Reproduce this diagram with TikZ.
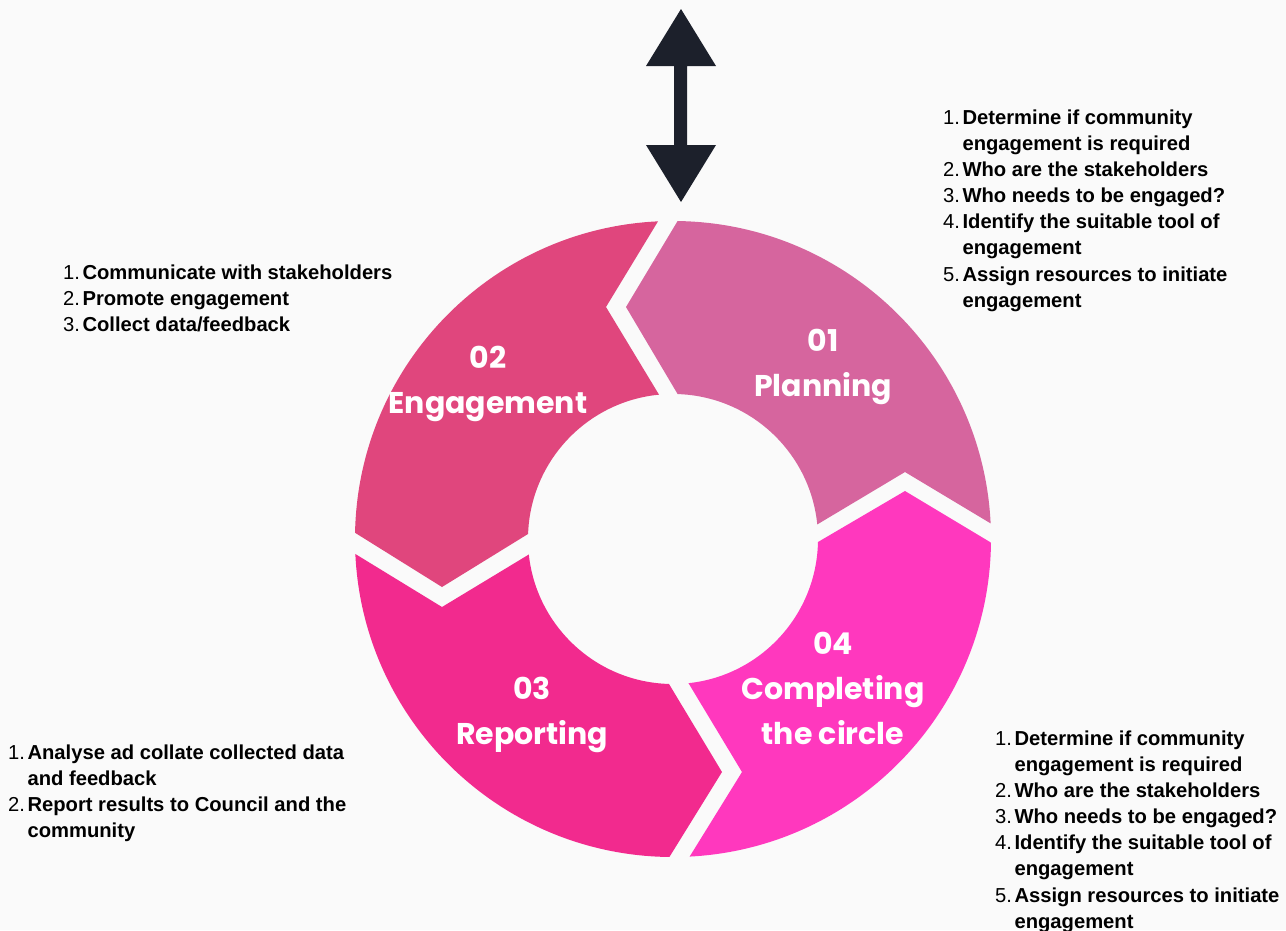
\documentclass[tikz,border=0pt]{standalone}
\usepackage{fontspec}
\usetikzlibrary{calc}
\newfontfamily\pop{Poppins}
\newfontfamily\lsf{Liberation Sans}
\definecolor{bgc}{HTML}{FAFAFA}
\definecolor{cA}{HTML}{D6659E}
\definecolor{cB}{HTML}{E0467D}
\definecolor{cC}{HTML}{F22A8E}
\definecolor{cD}{HTML}{FF38BE}
\definecolor{arr}{HTML}{1C202B}
\tikzset{
  lab/.style={text=white, font=\pop\bfseries\fontsize{30}{45}\selectfont, align=center, inner sep=0pt},
  lst/.style={anchor=north west, inner sep=0pt, text=black, font=\lsf\fontsize{20.2}{26.1}\selectfont},
}
\newcommand{\itm}[2]{#1.&\textbf{#2}}
\begin{document}
\begin{tikzpicture}[x=1pt,y=-1pt]
\useasboundingbox (0,0) rectangle (1286,930);
\fill[bgc] (0,0) rectangle (1286,930);
\coordinate (C) at (673,539);
% top gap
\coordinate (tOa) at (657,223); \coordinate (tTa) at (606,307); \coordinate (tIa) at (658,393);
\coordinate (tOb) at (677,222); \coordinate (tTb) at (626,307); \coordinate (tIb) at (677,393);
% left gap
\coordinate (lOa) at (357,534); \coordinate (lTa) at (442,587); \coordinate (lIa) at (528,534);
\coordinate (lOb) at (357,555); \coordinate (lTb) at (442,607); \coordinate (lIb) at (528,555);
% bottom gap
\coordinate (bOa) at (670,856); \coordinate (bTa) at (722,772); \coordinate (bIa) at (669,684);
\coordinate (bOb) at (690,856); \coordinate (bTb) at (742,772); \coordinate (bIb) at (689,684);
% right gap
\coordinate (rOa) at (990,523); \coordinate (rTa) at (905,472); \coordinate (rIa) at (818,524);
\coordinate (rOb) at (990,542); \coordinate (rTb) at (905,491); \coordinate (rIb) at (818,542);
\def\ring{(C) circle[radius=318] (C) circle[radius=145]}
% 01
\begin{scope}
\clip (C) -- ($(tTb)!1.3!(tIb)$) -- (tTb) -- ($(tTb)!1.6!(tOb)$) -- (1250,60) -- ($(rTa)!1.6!(rOa)$) -- (rTa) -- ($(rTa)!1.3!(rIa)$) -- cycle;
\fill[cA, even odd rule] \ring;
\end{scope}
% 02
\begin{scope}
\clip (C) -- ($(tTa)!1.3!(tIa)$) -- (tTa) -- ($(tTa)!1.6!(tOa)$) -- (100,60) -- ($(lTa)!1.6!(lOa)$) -- (lTa) -- ($(lTa)!1.3!(lIa)$) -- cycle;
\fill[cB, even odd rule] \ring;
\end{scope}
% 03
\begin{scope}
\clip (C) -- ($(lTb)!1.3!(lIb)$) -- (lTb) -- ($(lTb)!1.6!(lOb)$) -- (100,1000) -- ($(bTa)!1.6!(bOa)$) -- (bTa) -- ($(bTa)!1.3!(bIa)$) -- cycle;
\fill[cC, even odd rule] \ring;
\end{scope}
% 04
\begin{scope}
\clip (C) -- ($(bTb)!1.3!(bIb)$) -- (bTb) -- ($(bTb)!1.6!(bOb)$) -- (1250,1000) -- ($(rTb)!1.6!(rOb)$) -- (rTb) -- ($(rTb)!1.3!(rIb)$) -- cycle;
\fill[cD, even odd rule] \ring;
\end{scope}
% double arrow
\fill[arr] (681,9) -- (716,66) -- (687,66) -- (687,145) -- (716,145) -- (681,202) -- (646,145) -- (674,145) -- (674,66) -- (646,66) -- cycle;
% labels
\node[lab] (l1) at (823,367) {01\\Planning};
\node[lab] (l2) at (488,384) {02\\Engagement};
\node[lab] (l3) at (532,715) {03\\Reporting};
\node[lab] (l4) at (833,688) {04\\Completing\\the circle};
% lists
\node[lst] (t1) at (943,106) {\begin{tabular}{@{}r@{\hspace{2.5pt}}l@{}}
\itm{1}{Determine if community}\\
&\textbf{engagement is required}\\
\itm{2}{Who are the stakeholders}\\
\itm{3}{Who needs to be engaged?}\\
\itm{4}{Identify the suitable tool of}\\
&\textbf{engagement}\\
\itm{5}{Assign resources to initiate}\\
&\textbf{engagement}
\end{tabular}};
\node[lst] (t2) at (63,261) {\begin{tabular}{@{}r@{\hspace{2.5pt}}l@{}}
\itm{1}{Communicate with stakeholders}\\
\itm{2}{Promote engagement}\\
\itm{3}{Collect data/feedback}
\end{tabular}};
\node[lst] (t3) at (8,741) {\begin{tabular}{@{}r@{\hspace{2.5pt}}l@{}}
\itm{1}{Analyse ad collate collected data}\\
&\textbf{and feedback}\\
\itm{2}{Report results to Council and the}\\
&\textbf{community}
\end{tabular}};
\node[lst] (t4) at (995,727) {\begin{tabular}{@{}r@{\hspace{2.5pt}}l@{}}
\itm{1}{Determine if community}\\
&\textbf{engagement is required}\\
\itm{2}{Who are the stakeholders}\\
\itm{3}{Who needs to be engaged?}\\
\itm{4}{Identify the suitable tool of}\\
&\textbf{engagement}\\
\itm{5}{Assign resources to initiate}\\
&\textbf{engagement}
\end{tabular}};
\end{tikzpicture}
\end{document}
